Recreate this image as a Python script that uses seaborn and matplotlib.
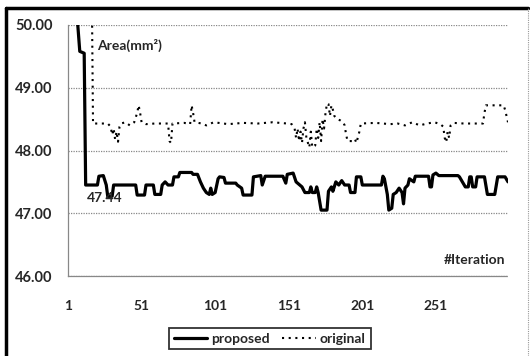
import numpy as np
import pandas as pd
import matplotlib
matplotlib.use("Agg")
import matplotlib.pyplot as plt
from matplotlib.lines import Line2D
import seaborn as sns

# --- data (iteration, area in mm^2) ---
proposed_iter = [1, 7, 9, 12, 13, 21, 22, 25, 27, 28, 31, 32, 47, 48, 53, 54, 59, 60, 64, 65,
                 67, 69, 72, 73, 76, 77, 85, 86, 89, 91, 93, 95, 97, 98, 99, 101, 103, 104, 107, 108,
                 115, 116, 119, 120, 126, 127, 132, 133, 135, 147, 149, 150, 154, 156, 160, 162, 165, 166, 167, 169,
                 170, 171, 173, 177, 178, 180, 181, 183, 185, 187, 189, 192, 193, 196, 197, 200, 201, 214, 215, 216,
                 218, 219, 221, 222, 224, 226, 228, 229, 230, 232, 233, 236, 237, 246, 247, 248, 249, 251, 253, 266,
                 267, 271, 273, 274, 275, 276, 278, 279, 284, 286, 291, 293, 298, 300]
proposed_area = [51.0, 50.2, 49.58, 49.55, 47.45, 47.45, 47.59, 47.6, 47.45, 47.27, 47.27, 47.45, 47.45, 47.29, 47.29, 47.45, 47.45, 47.3, 47.3, 47.45,
                 47.5, 47.45, 47.45, 47.58, 47.58, 47.65, 47.65, 47.62, 47.62, 47.5, 47.4, 47.33, 47.3, 47.4, 47.3, 47.33, 47.55, 47.58, 47.57, 47.48,
                 47.48, 47.45, 47.4, 47.29, 47.29, 47.58, 47.6, 47.45, 47.59, 47.59, 47.48, 47.62, 47.64, 47.5, 47.42, 47.33, 47.33, 47.42, 47.33, 47.33,
                 47.42, 47.33, 47.05, 47.05, 47.35, 47.42, 47.35, 47.5, 47.45, 47.52, 47.45, 47.45, 47.33, 47.33, 47.58, 47.58, 47.45, 47.45, 47.59, 47.55,
                 47.3, 47.05, 47.08, 47.3, 47.33, 47.4, 47.33, 47.15, 47.4, 47.45, 47.55, 47.5, 47.59, 47.59, 47.42, 47.42, 47.61, 47.64, 47.6, 47.6,
                 47.58, 47.42, 47.42, 47.58, 47.58, 47.42, 47.42, 47.58, 47.58, 47.3, 47.3, 47.58, 47.58, 47.5]

original_iter = [1, 17, 18, 28, 30, 31, 32, 33, 34, 35, 36, 37, 40, 43, 46, 48, 49, 50, 51, 54,
                 60, 69, 70, 71, 72, 80, 84, 85, 86, 87, 92, 95, 100, 110, 120, 130, 140, 150, 153, 155,
                 156, 157, 158, 159, 160, 161, 162, 163, 165, 166, 167, 169, 170, 171, 172, 173, 174, 175, 176, 177,
                 178, 179, 180, 181, 182, 184, 186, 188, 189, 190, 191, 195, 196, 197, 199, 200, 210, 220, 225, 230,
                 235, 240, 245, 250, 254, 256, 257, 258, 259, 260, 261, 263, 270, 276, 283, 284, 285, 297, 298, 299, 300]
original_area = [51.5, 51.0, 48.43, 48.43, 48.38, 48.25, 48.35, 48.18, 48.3, 48.14, 48.38, 48.43, 48.45, 48.4, 48.45, 48.6, 48.72, 48.6, 48.45, 48.42,
                 48.43, 48.43, 48.15, 48.12, 48.43, 48.44, 48.42, 48.72, 48.6, 48.45, 48.43, 48.4, 48.45, 48.42, 48.44, 48.43, 48.45, 48.43, 48.42, 48.35,
                 48.2, 48.35, 48.15, 48.3, 48.12, 48.35, 48.45, 48.2, 48.05, 48.3, 48.05, 48.08, 48.35, 48.2, 48.45, 48.15, 48.5, 48.35, 48.6, 48.75,
                 48.74, 48.55, 48.72, 48.65, 48.55, 48.5, 48.48, 48.45, 48.4, 48.25, 48.15, 48.15, 48.18, 48.12, 48.3, 48.43, 48.44, 48.42, 48.43, 48.4,
                 48.45, 48.4, 48.43, 48.45, 48.42, 48.38, 48.2, 48.13, 48.3, 48.2, 48.4, 48.44, 48.43, 48.43, 48.43, 48.6, 48.72, 48.72, 48.65, 48.55, 48.45]

x_ticks = [1, 51, 101, 151, 201, 251]
y_ticks = [46, 47, 48, 49, 50]

df = pd.concat([
    pd.DataFrame({'iteration': proposed_iter, 'area': proposed_area, 'method': 'proposed'}),
    pd.DataFrame({'iteration': original_iter, 'area': original_area, 'method': 'original'}),
])

sns.set_style("white")
plt.rcParams['font.family'] = ['Lato', 'DejaVu Sans']
plt.rcParams['font.weight'] = 'bold'

fig = plt.figure(figsize=(5.3, 3.56), dpi=100)
ax = fig.add_axes([68 / 530, 80 / 356, 440 / 530, 251 / 356])

sns.lineplot(data=df, x='iteration', y='area', hue='method', style='method',
             palette={'proposed': 'black', 'original': 'black'},
             dashes={'proposed': '', 'original': (1, 2.2)},
             sort=False, estimator=None, legend=False, ax=ax)
ax.lines[0].set_linewidth(2.3)
ax.lines[1].set_linewidth(1.5)

ax.set_xlim(1, 300)
ax.set_ylim(46, 50)
ax.set_xticks(x_ticks)
ax.set_yticks(y_ticks)
ax.set_yticklabels([f"{v:.2f}" for v in y_ticks])
ax.tick_params(axis='x', length=0, pad=17, labelsize=10)
ax.tick_params(axis='y', length=0, pad=11, labelsize=10.5)
for lab in ax.get_xticklabels() + ax.get_yticklabels():
    lab.set_fontweight('bold')
ax.set_xlabel('')
ax.set_ylabel('')

# dotted gray gridlines / plot-area border like the Excel original
ax.grid(axis='y', color='#888888', linestyle=(0, (1, 1)), linewidth=0.9)
ax.set_axisbelow(True)
for side in ['top', 'right']:
    ax.spines[side].set_visible(False)
for side in ['left', 'bottom']:
    ax.spines[side].set_linestyle((0, (1, 1)))
    ax.spines[side].set_color('#888888')
    ax.spines[side].set_linewidth(0.9)

ax.text(20.7, 49.68, 'Area(mm²)', fontsize=10, fontweight='bold', ha='left', va='center')
ax.text(298, 46.25, '#Iteration', fontsize=10, fontweight='bold', ha='right', va='center')
ax.text(13.5, 47.24, '47.44', fontsize=10, fontweight='bold', ha='left', va='center')

handles = [Line2D([], [], color='black', linewidth=2.3),
           Line2D([], [], color='black', linewidth=1.5, linestyle=(0, (1, 2.2)))]
leg = fig.legend(handles, ['proposed', 'original'], loc='center', bbox_to_anchor=(0.509, 0.049),
                 ncol=2, frameon=True, fancybox=False, fontsize=10, handlelength=2.4,
                 handletextpad=0.3, columnspacing=0.9, borderpad=0.35)
leg.get_frame().set_edgecolor('black')
leg.get_frame().set_linewidth(1.3)
for t in leg.get_texts():
    t.set_fontweight('bold')

# outer chart-area frame
fig.add_artist(Line2D([6 / 530, 6 / 530], [0, 1 - 8 / 356], color='black', linewidth=2.5, transform=fig.transFigure))
fig.add_artist(Line2D([6 / 530, 528 / 530], [1 - 8 / 356, 1 - 8 / 356], color='black', linewidth=2.5, transform=fig.transFigure))
fig.add_artist(Line2D([528 / 530, 528 / 530], [0, 1 - 8 / 356], color='#999999', linewidth=0.8,
                      linestyle=(0, (1, 1)), transform=fig.transFigure))

fig.savefig('out.png', dpi=100)
